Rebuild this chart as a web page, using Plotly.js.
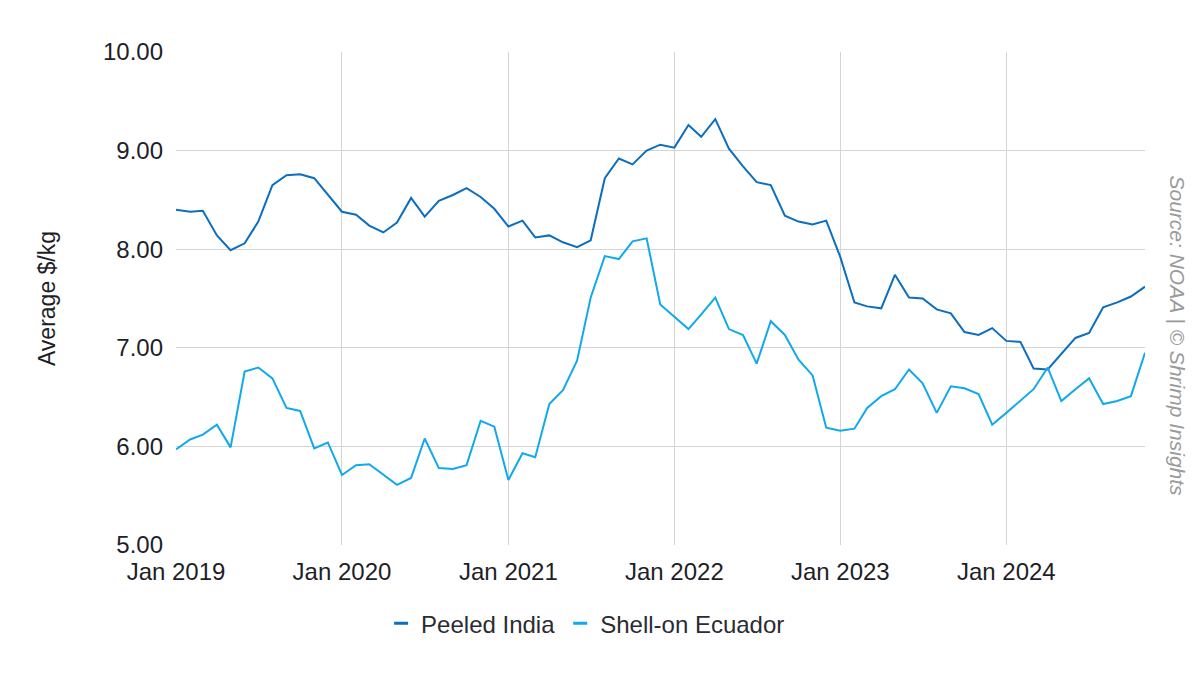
<!DOCTYPE html>
<html>
<head>
<meta charset="utf-8">
<script src="https://cdn.plot.ly/plotly-3.0.1.min.js"></script>
<style>html,body{margin:0;padding:0;background:#fff;}#chart{width:1200px;height:675px;}</style>
</head>
<body>
<div id="chart"></div>
<script>
const startMonth = '2019-01-01';
const monthCount = 71;
const seriesNames = ['Peeled India', 'Shell-on Ecuador'];
const seriesColors = ['#0b6ebf', '#12a9ec'];
const peeledIndia = [
  8.40, 8.38, 8.39, 8.14, 7.99, 8.06, 8.28, 8.65, 8.75, 8.76, 8.72, 8.55,
  8.38, 8.35, 8.24, 8.17, 8.27, 8.52, 8.33, 8.49, 8.55, 8.62, 8.53, 8.41,
  8.23, 8.29, 8.12, 8.14, 8.07, 8.02, 8.09, 8.72, 8.92, 8.86, 9.00, 9.06,
  9.03, 9.26, 9.14, 9.32, 9.02, 8.84, 8.68, 8.65, 8.34, 8.28, 8.25, 8.29,
  7.92, 7.46, 7.42, 7.40, 7.74, 7.51, 7.50, 7.39, 7.35, 7.16, 7.13, 7.20,
  7.07, 7.06, 6.79, 6.78, 6.94, 7.10, 7.15, 7.41, 7.46, 7.52, 7.62
];
const shellOnEcuador = [
  5.97, 6.07, 6.12, 6.22, 5.99, 6.76, 6.80, 6.69, 6.39, 6.36, 5.98, 6.04,
  5.71, 5.81, 5.82, 5.71, 5.61, 5.68, 6.08, 5.78, 5.77, 5.81, 6.26, 6.20,
  5.66, 5.93, 5.89, 6.43, 6.57, 6.87, 7.51, 7.93, 7.90, 8.08, 8.11, 7.44,
  7.31, 7.19, 7.34, 7.51, 7.19, 7.13, 6.84, 7.27, 7.13, 6.88, 6.72, 6.19,
  6.16, 6.18, 6.39, 6.51, 6.58, 6.78, 6.64, 6.34, 6.61, 6.59, 6.53, 6.22,
  6.34, 6.46, 6.58, 6.80, 6.46, 6.58, 6.69, 6.43, 6.46, 6.51, 6.95
];
const yTitle = 'Average $/kg';
const sourceText = 'Source: NOAA | © Shrimp Insights';

// build month dates
const months = [];
for (let i = 0; i < monthCount; i++) {
  const y = 2019 + Math.floor(i / 12);
  const m = (i % 12) + 1;
  months.push(y + '-' + String(m).padStart(2, '0') + '-01');
}

const font = 'Liberation Sans, Arial, sans-serif';
const seriesData = [peeledIndia, shellOnEcuador];
const traces = [];
seriesData.forEach((vals, i) => {
  traces.push({
    type: 'scatter', mode: 'lines', x: months, y: vals, name: seriesNames[i],
    line: {color: seriesColors[i], width: 2}, showlegend: false,
    hovertemplate: '%{x|%b %Y}: %{y:.2f}<extra>' + seriesNames[i] + '</extra>'
  });
});
seriesData.forEach((vals, i) => {
  traces.push({
    type: 'scatter', mode: 'markers', x: [null], y: [null], name: seriesNames[i],
    marker: {symbol: 'line-ew', size: 10, color: seriesColors[i], line: {color: seriesColors[i], width: 3}},
    showlegend: true, hoverinfo: 'skip'
  });
});

const layout = {
  width: 1200, height: 675,
  margin: {l: 176, r: 55, t: 52, b: 130},
  paper_bgcolor: '#ffffff', plot_bgcolor: '#ffffff',
  font: {family: font, size: 24, color: '#2b2b33'},
  xaxis: {
    type: 'date',
    range: ['2019-01-01', '2024-11-01'],
    dtick: 'M12', tick0: '2019-01-01',
    tickformat: '%b %Y',
    showgrid: true, gridcolor: '#d4d4d4', gridwidth: 1,
    zeroline: false, showline: false, ticks: '',
    ticklabelstandoff: 10,
    tickfont: {size: 24, color: '#1e1e28'},
    fixedrange: true
  },
  yaxis: {
    range: [5, 10], dtick: 1, tick0: 5,
    tickformat: '.2f',
    showgrid: true, gridcolor: '#d4d4d4', gridwidth: 1,
    zeroline: false, showline: false, ticks: '',
    ticklabelstandoff: 12,
    tickfont: {size: 24, color: '#1e1e28'},
    title: {text: yTitle, font: {size: 23, color: '#1e1e28'}, standoff: 40},
    fixedrange: true
  },
  showlegend: true,
  legend: {
    orientation: 'h', xref: 'container', yref: 'container',
    x: 0.488, xanchor: 'center', y: 0.076, yanchor: 'middle',
    font: {size: 24, color: '#2b2b33'},
    itemwidth: 30, tracegroupgap: 0, bgcolor: 'rgba(0,0,0,0)'
  },
  annotations: [{
    text: '<i>' + sourceText + '</i>',
    xref: 'paper', yref: 'paper',
    x: 1, xanchor: 'left', xshift: 18,
    y: (675 - 336 - 130) / 493, yanchor: 'middle',
    textangle: 90, showarrow: false,
    font: {family: font, size: 21, color: '#9a9a9a'}
  }]
};

Plotly.newPlot('chart', traces, layout, {displayModeBar: false, staticPlot: true});
</script>
</body>
</html>
